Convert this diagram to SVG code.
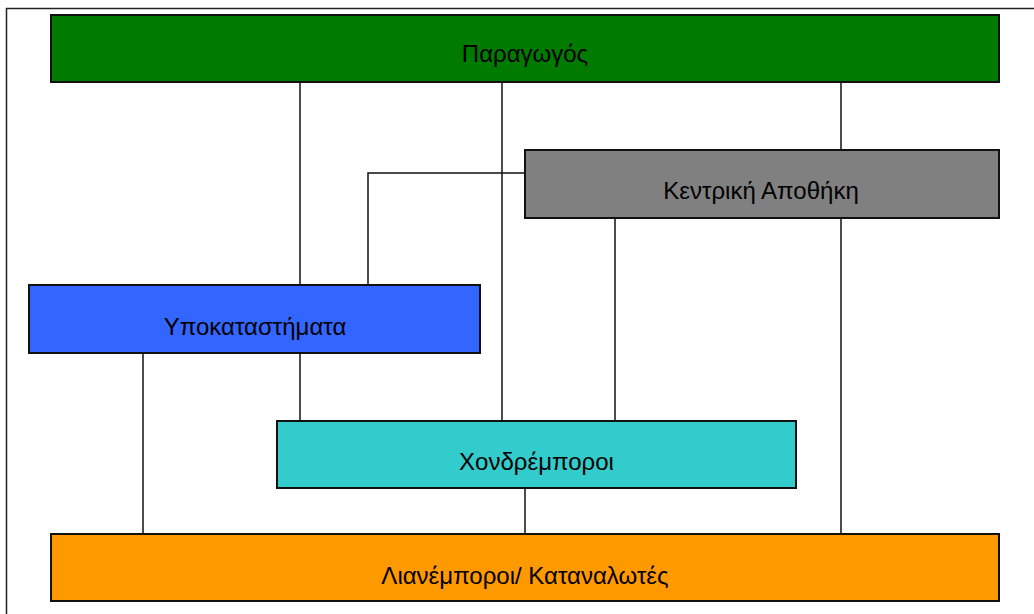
<svg xmlns="http://www.w3.org/2000/svg" width="1034" height="614" viewBox="0 0 1034 614">
  <style>
    .box { stroke: #111; stroke-width: 2; }
    .lbl { font-family: "Liberation Sans", Arial, sans-serif; font-size: 24px; fill: #000; text-anchor: middle; }
    .wire { fill: none; stroke: #111; stroke-width: 1.5; }
  </style>
  <rect width="1034" height="614" fill="#fff"/>
  <!-- outer frame -->
  <rect x="6.5" y="8.5" width="1040" height="620" fill="none" stroke="#222" stroke-width="1.5"/>

  <!-- connectors -->
  <g id="connectors">
    <path class="wire" d="M300 82 V285"/>
    <path class="wire" d="M300 353 V421"/>
    <path class="wire" d="M502 82 V421"/>
    <path class="wire" d="M841 82 V150"/>
    <path class="wire" d="M841 218 V534"/>
    <path class="wire" d="M525 173 H368 V285"/>
    <path class="wire" d="M615 218 V421"/>
    <path class="wire" d="M143 353 V534"/>
    <path class="wire" d="M525 488 V534"/>
  </g>

  <g id="producer">
    <rect class="box" x="51" y="15" width="948" height="67" fill="#007b00"/>
    <text class="lbl" x="525" y="62">Παραγωγός</text>
  </g>
  <g id="central-warehouse">
    <rect class="box" x="525" y="150" width="474" height="68" fill="#808080"/>
    <text class="lbl" x="761" y="199">Κεντρική Αποθήκη</text>
  </g>
  <g id="branches">
    <rect class="box" x="29" y="285" width="451" height="68" fill="#3366ff"/>
    <text class="lbl" x="255" y="335">Υποκαταστήματα</text>
  </g>
  <g id="wholesalers">
    <rect class="box" x="277" y="421" width="519" height="67" fill="#33cccc"/>
    <text class="lbl" x="536.5" y="470">Χονδρέμποροι</text>
  </g>
  <g id="retailers">
    <rect class="box" x="51" y="534" width="948" height="67" fill="#ff9900"/>
    <text class="lbl" x="525" y="584">Λιανέμποροι/ Καταναλωτές</text>
  </g>
</svg>
